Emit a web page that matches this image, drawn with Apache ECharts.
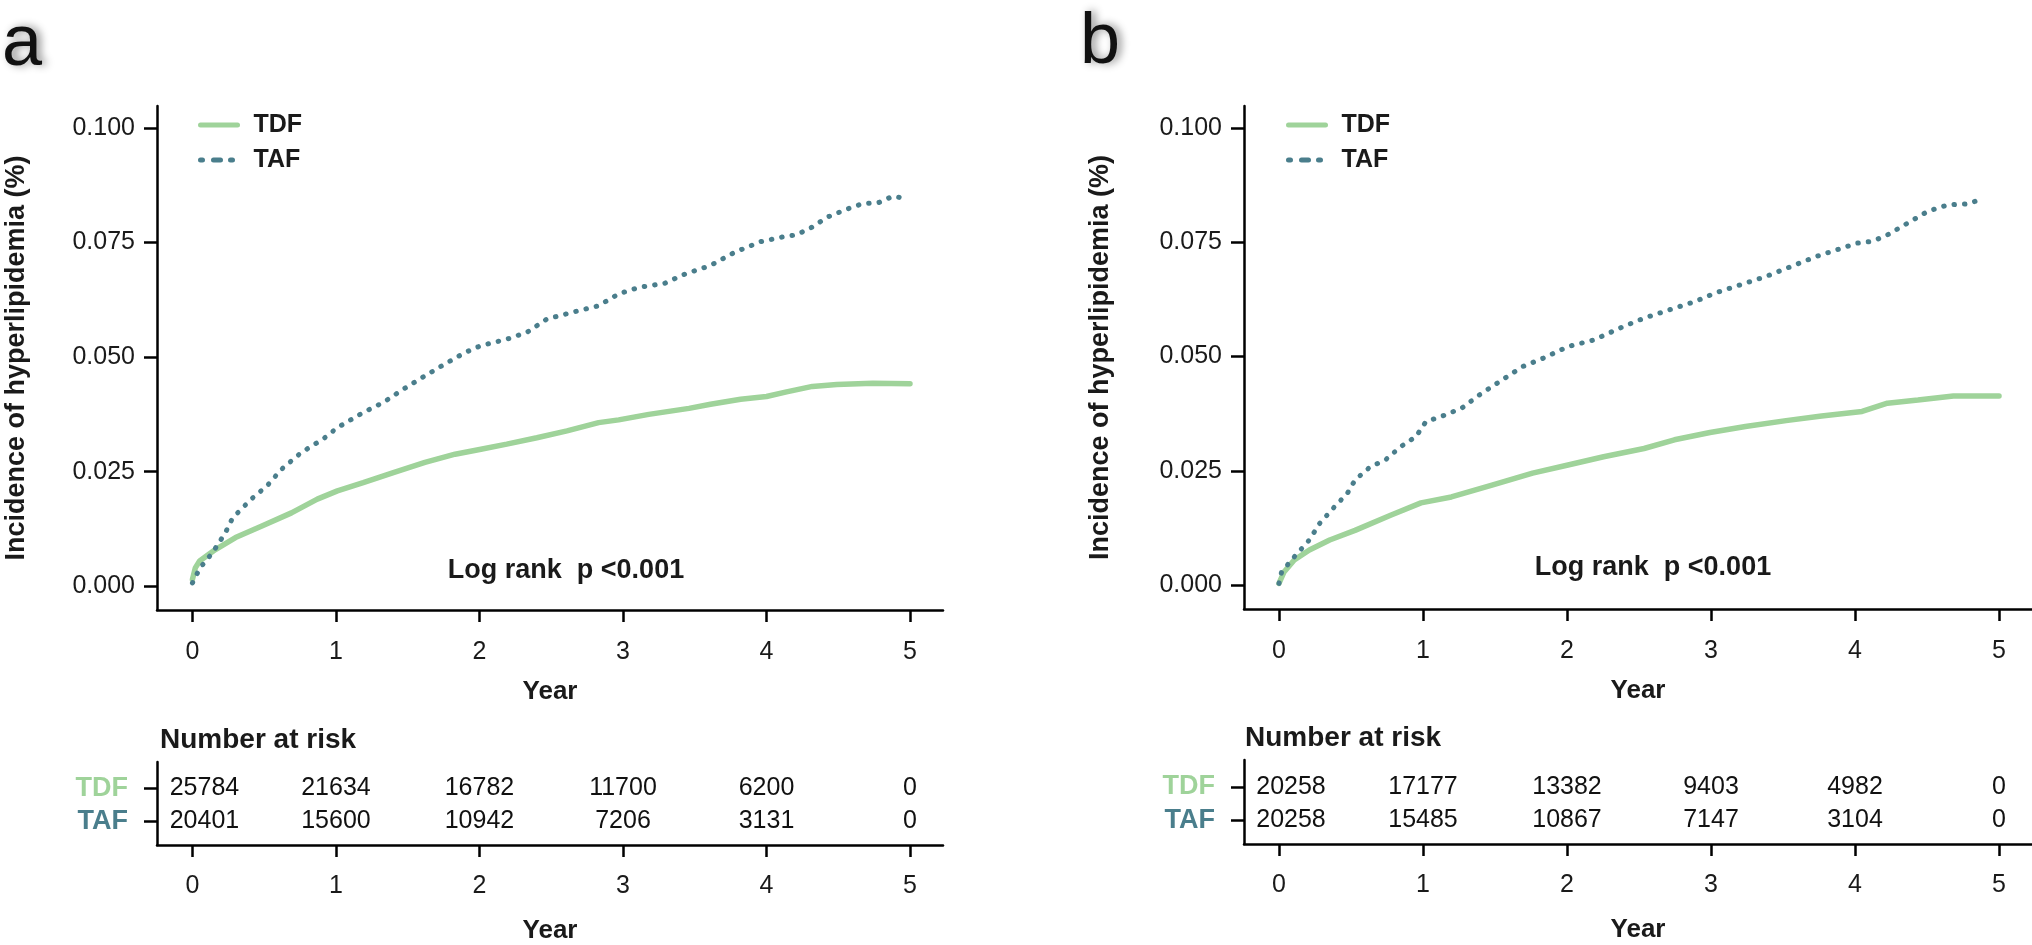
<!DOCTYPE html>
<html>
<head>
<meta charset="utf-8">
<script src="https://cdn.jsdelivr.net/npm/echarts@6.0.0/dist/echarts.min.js"></script>
<style>
html,body{margin:0;padding:0;background:#fff;}
#chart{width:2032px;height:945px;}
</style>
</head>
<body>
<div id="chart"></div>
<script>
// ---------------- data ----------------
const yTicks = [0, 0.025, 0.05, 0.075, 0.1];
const xTicks = [0, 1, 2, 3, 4, 5];
const riskRows = ['TAF', 'TDF']; // row 0 = TAF, row 1 = TDF

// Panel a: cumulative incidence [year, incidence]
const aTDF = [[0,0.0015],[0.02,0.004],[0.05,0.0055],[0.16,0.008],[0.30,0.0106],[0.48,0.0131],[0.69,0.016],[0.87,0.019],[1.01,0.0208],[1.19,0.0226],[1.40,0.0248],[1.62,0.027],[1.83,0.0288],[2.01,0.0299],[2.19,0.031],[2.40,0.0324],[2.61,0.0339],[2.83,0.0357],[2.97,0.0363],[3.18,0.0375],[3.46,0.0388],[3.61,0.0397],[3.82,0.0408],[4.0,0.0414],[4.14,0.0424],[4.32,0.0436],[4.49,0.044],[4.74,0.0443],[5.0,0.0442]];
const aTAF = [[0,0.0007],[0.053,0.004],[0.14,0.0073],[0.23,0.0117],[0.28,0.0149],[0.41,0.019],[0.52,0.0219],[0.62,0.0255],[0.76,0.0292],[0.91,0.0321],[1.01,0.0346],[1.19,0.0379],[1.33,0.0401],[1.47,0.043],[1.62,0.0459],[1.76,0.0485],[1.90,0.051],[2.01,0.0525],[2.19,0.0539],[2.33,0.0554],[2.47,0.0583],[2.65,0.0598],[2.83,0.0612],[2.97,0.0638],[3.11,0.0652],[3.29,0.0661],[3.43,0.0681],[3.61,0.070],[3.78,0.0729],[3.96,0.0752],[4.11,0.0762],[4.21,0.0767],[4.32,0.0784],[4.42,0.0805],[4.57,0.0824],[4.67,0.0835],[4.78,0.0837],[4.88,0.0851],[4.99,0.0845]];

// Panel b
const bTDF = [[0,0.0004],[0.035,0.0029],[0.106,0.0055],[0.211,0.0077],[0.352,0.0099],[0.528,0.012],[0.775,0.0153],[0.986,0.018],[1.197,0.0193],[1.479,0.0219],[1.761,0.0245],[2.007,0.0263],[2.254,0.0281],[2.535,0.0299],[2.746,0.0318],[2.993,0.0334],[3.239,0.0347],[3.521,0.036],[3.768,0.037],[4.049,0.038],[4.225,0.0398],[4.437,0.0405],[4.683,0.0414],[5.0,0.0414]];
const bTAF = [[0,0.0004],[0.018,0.0029],[0.106,0.0062],[0.211,0.0099],[0.282,0.0135],[0.387,0.0172],[0.475,0.0201],[0.528,0.023],[0.634,0.0259],[0.739,0.0274],[0.845,0.0303],[0.951,0.0325],[1.021,0.0358],[1.127,0.0369],[1.268,0.0387],[1.408,0.042],[1.549,0.0449],[1.69,0.0478],[1.831,0.0496],[2.007,0.0522],[2.183,0.0536],[2.394,0.0566],[2.535,0.0584],[2.746,0.0606],[2.887,0.062],[3.028,0.0639],[3.204,0.0657],[3.38,0.0675],[3.556,0.0697],[3.732,0.0719],[3.908,0.0737],[4.014,0.0748],[4.12,0.0752],[4.225,0.0766],[4.366,0.0792],[4.507,0.0818],[4.648,0.0832],[4.789,0.0834],[4.894,0.0847]];

// Number at risk
const riskYears = [0, 1, 2, 3, 4, 5];
const aRiskTDF = [25784, 21634, 16782, 11700, 6200, 0];
const aRiskTAF = [20401, 15600, 10942, 7206, 3131, 0];
const bRiskTDF = [20258, 17177, 13382, 9403, 4982, 0];
const bRiskTAF = [20258, 15485, 10867, 7147, 3104, 0];

// ---------------- style ----------------
const GREEN = '#9FD39A';
const TEAL = '#4A7E8C';
const FONT = 'Liberation Sans, Arial, sans-serif';
const TXT = '#1a1a1a';

const chart = echarts.init(document.getElementById('chart'), null, {renderer: 'canvas'});

function mainX(gi, min, max) {
  return {
    type: 'value', gridIndex: gi, min: min, max: max,
    name: 'Year', nameLocation: 'middle', nameGap: 69,
    nameTextStyle: {fontFamily: FONT, fontWeight: 'bold', fontSize: 26, color: TXT},
    axisLine: {show: true, onZero: false, lineStyle: {color: '#000', width: 2.5}},
    axisTick: {show: true, length: 12, customValues: xTicks, lineStyle: {color: '#000', width: 2.5}},
    axisLabel: {customValues: xTicks, margin: 30, fontFamily: FONT, fontSize: 25, color: TXT},
    splitLine: {show: false}
  };
}
function riskX(gi, min, max) {
  const o = mainX(gi, min, max);
  o.nameGap = 73;
  o.axisLabel.margin = 29;
  return o;
}
function mainY(gi, gap) {
  return {
    type: 'value', gridIndex: gi, min: -0.0052, max: 0.1048,
    name: 'Incidence of hyperlipidemia (%)', nameLocation: 'middle', nameGap: gap,
    nameTextStyle: {fontFamily: FONT, fontWeight: 'bold', fontSize: 27, color: TXT},
    axisLine: {show: true, onZero: false, lineStyle: {color: '#000', width: 2.5}},
    axisTick: {show: true, length: 13, customValues: yTicks, lineStyle: {color: '#000', width: 2.5}},
    axisLabel: {customValues: yTicks, margin: 22, fontFamily: FONT, fontSize: 25, color: TXT,
      formatter: v => v.toFixed(3)},
    splitLine: {show: false}
  };
}
function riskY(gi) {
  return {
    type: 'value', gridIndex: gi, min: -0.71, max: 1.8,
    axisLine: {show: true, onZero: false, lineStyle: {color: '#000', width: 2.5}},
    axisTick: {show: true, length: 13, customValues: [0, 1], lineStyle: {color: '#000', width: 2.5}},
    axisLabel: {customValues: [0, 1], margin: 29,
      formatter: v => '{' + riskRows[Math.round(v)].toLowerCase() + '|' + riskRows[Math.round(v)] + '}',
      rich: {
        tdf: {fontFamily: FONT, fontWeight: 'bold', fontSize: 27, color: GREEN},
        taf: {fontFamily: FONT, fontWeight: 'bold', fontSize: 27, color: TEAL}
      }},
    splitLine: {show: false}
  };
}
function kmLine(name, data, xi, color, dotted) {
  return {
    name: name, type: 'line', xAxisIndex: xi, yAxisIndex: xi, data: data,
    symbol: 'none', showSymbol: false, smooth: false, silent: true, animation: false,
    lineStyle: dotted
      ? {color: color, width: 5, type: [0.5, 10], cap: 'round'}
      : {color: color, width: 5.5, cap: 'round'},
    itemStyle: {color: color}, z: dotted ? 3 : 2
  };
}
function riskSeries(counts, row, xi) {
  return {
    type: 'scatter', xAxisIndex: xi, yAxisIndex: xi, symbol: 'circle', symbolSize: 1, silent: true, animation: false,
    itemStyle: {color: 'rgba(255,255,255,0)', opacity: 1},
    label: {show: true, position: 'inside', fontFamily: FONT, fontSize: 25, color: '#111',
      textBorderWidth: 0, formatter: p => String(p.value[2])},
    data: riskYears.map((yr, i) => {
      const d = {value: [yr, row, counts[i]]};
      if (i === 0) d.label = {offset: [12, 0]};
      return d;
    })
  };
}
function txt(x, y, s, size, weight, align, extra) {
  return {type: 'text', x: x, y: y, silent: true,
    style: Object.assign({text: s, fontFamily: FONT, fontSize: size, fontWeight: weight,
      fill: TXT, align: align || 'left', verticalAlign: 'middle'}, extra || {})};
}

function legendFor(left) {
  return {
    orient: 'vertical', left: left, top: 107, itemWidth: 37, itemHeight: 14, itemGap: 9,
    textStyle: {fontFamily: FONT, fontWeight: 'bold', fontSize: 25, color: TXT, lineHeight: 26, padding: [0, 0, 0, 11]},
    itemStyle: {opacity: 0},
    selectedMode: false,
    data: [
      {name: 'TDF', lineStyle: {width: 5, cap: 'round'}},
      {name: 'TAF', lineStyle: {width: 5, cap: 'round', type: [2, 11, 7, 10, 2, 100]}}
    ]
  };
}

const option = {
  backgroundColor: '#fff',
  animation: false,
  grid: [
    {left: 157, top: 106, width: 786, height: 504},
    {left: 157, top: 762, width: 786, height: 85},
    {left: 1244, top: 106, width: 788, height: 503},
    {left: 1244, top: 760, width: 788, height: 84}
  ],
  xAxis: [
    mainX(0, -0.247, 5.23),
    riskX(1, -0.247, 5.23),
    mainX(2, -0.243, 5.229),
    riskX(3, -0.243, 5.229)
  ],
  yAxis: [
    mainY(0, 127),
    riskY(1),
    mainY(2, 130),
    riskY(3)
  ],
  legend: [legendFor(193), legendFor(1281)],
  series: [
    kmLine('TDF', aTDF, 0, GREEN, false),
    kmLine('TAF', aTAF, 0, TEAL, true),
    kmLine('TDF', bTDF, 2, GREEN, false),
    kmLine('TAF', bTAF, 2, TEAL, true),
    riskSeries(aRiskTDF, 1, 1),
    riskSeries(aRiskTAF, 0, 1),
    riskSeries(bRiskTDF, 1, 3),
    riskSeries(bRiskTAF, 0, 3)
  ],
  graphic: [
    txt(2, 45, 'a', 72, 'normal', 'left', {fill: '#111', textShadowBlur: 8, textShadowColor: 'rgba(0,0,0,0.45)', textShadowOffsetX: 4}),
    txt(1080, 43, 'b', 72, 'normal', 'left', {fill: '#111', textShadowBlur: 8, textShadowColor: 'rgba(0,0,0,0.45)', textShadowOffsetX: 4}),
    txt(566, 571, 'Log rank  p <0.001', 27, 'bold', 'center'),
    txt(1653, 568, 'Log rank  p <0.001', 27, 'bold', 'center'),
    txt(160, 740, 'Number at risk', 28, 'bold', 'left'),
    txt(1245, 738, 'Number at risk', 28, 'bold', 'left')
  ]
};
chart.setOption(option);
</script>
</body>
</html>
